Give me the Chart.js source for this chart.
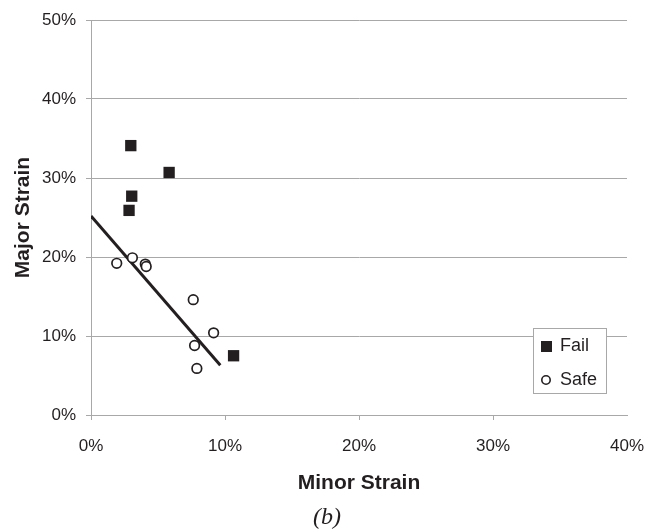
<!DOCTYPE html>
<html>
<head>
<meta charset="utf-8">
<script src="https://cdn.jsdelivr.net/npm/chart.js@4/dist/chart.umd.min.js"></script>
<style>
  html, body { margin: 0; padding: 0; background: #fff; }
  #box { width: 648px; height: 531px; }
</style>
</head>
<body>
<div id="box"><canvas id="strainChart" width="648" height="531"></canvas></div>
<script>
//______________________________________________________
// values, in percent
var FailMinor = [2.97, 5.83, 3.04, 2.84, 10.64];
var FailMajor = [34.1, 30.7, 27.7, 25.9, 7.5];
var SafeMinor = [1.92, 3.09, 4.05, 4.12, 7.63, 9.15, 7.73, 7.90];
var SafeMajor = [19.2, 19.9, 19.1, 18.8, 14.6, 10.4, 8.8, 5.9];
var TrendMinor = [0, 9.65];
var TrendMajor = [25.2, 6.3];
var XTicks = [0, 10, 20, 30, 40];
var YTicks = [0, 10, 20, 30, 40, 50];

const Ink = '#231f20';
const GridGrey = '#a8a8a8';
const FontName = '"Liberation Sans", Arial, sans-serif';

//______________________________________________________
function toPoints (xs, ys) {
    var pts = [];
    for (var i = 0; i < xs.length; i++) {
        pts.push({x: xs[i], y: ys[i]});
    }
    return pts;
}
//______________________________________________________
var insideLegend = { // boxed legend in the plot area + the (b) caption
    id: 'insideLegend',
    afterDraw: function (chart) {
        var ctx = chart.ctx;
        var left = 533, top = 328, w = 73, h = 65;
        ctx.save();
        ctx.fillStyle = '#fff';
        ctx.fillRect(left, top, w, h);
        ctx.strokeStyle = GridGrey;
        ctx.lineWidth = 1;
        ctx.strokeRect(left + 0.5, top + 0.5, w, h);
        ctx.font = '18px ' + FontName;
        ctx.textBaseline = 'middle';
        ctx.fillStyle = Ink;
        // Fail
        ctx.fillRect(541, 341, 11, 11);
        ctx.fillText(chart.data.datasets[0].label, 560, 346);
        // Safe
        ctx.beginPath();
        ctx.arc(546, 380, 4.2, 0, 2 * Math.PI);
        ctx.lineWidth = 1.6;
        ctx.strokeStyle = Ink;
        ctx.stroke();
        ctx.fillText(chart.data.datasets[1].label, 560, 380);
        // caption
        ctx.font = 'italic 24px "Liberation Serif", "Times New Roman", serif';
        ctx.textAlign = 'center';
        ctx.fillText('(b)', 327, 518);
        ctx.restore();
    }
};
//______________________________________________________
function initChart () {
    new Chart('strainChart', {
        type: 'scatter',
        data: {
            datasets: [{
                label: 'Fail',
                data: toPoints(FailMinor, FailMajor),
                pointStyle: 'rect',
                pointRadius: 8,
                pointBackgroundColor: Ink,
                pointBorderColor: Ink,
                pointBorderWidth: 0
            }, {
                label: 'Safe',
                data: toPoints(SafeMinor, SafeMajor),
                pointStyle: 'circle',
                pointRadius: 4.8,
                pointBackgroundColor: '#fff',
                pointBorderColor: Ink,
                pointBorderWidth: 1.7
            }, {
                label: 'trend',
                type: 'line',
                data: toPoints(TrendMinor, TrendMajor),
                borderColor: Ink,
                borderWidth: 3,
                pointRadius: 0,
                fill: false
            }]
        },
        options: {
            responsive: false,
            animation: false,
            layout: { padding: { left: 0, right: 21, top: 20, bottom: 0 } },
            plugins: {
                legend: { display: false },
                tooltip: { enabled: false }
            },
            scales: {
                x: {
                    type: 'linear',
                    min: 0, max: 40,
                    afterBuildTicks: function (s) { s.ticks = XTicks.map(function (v) { return {value: v}; }); },
                    afterFit: function (s) { s.height = 116; s.paddingLeft = 0; s.paddingRight = 0; },
                    grid: {
                        drawOnChartArea: false,
                        tickLength: 5,
                        tickColor: function (c) { return c.index === 4 ? 'rgba(0,0,0,0)' : GridGrey; }
                    },
                    border: { color: GridGrey, width: 1 },
                    ticks: {
                        color: Ink,
                        padding: 16,
                        font: { family: FontName, size: 17 },
                        callback: function (v) { return v + '%'; }
                    },
                    title: {
                        display: true,
                        text: 'Minor Strain',
                        color: Ink,
                        font: { family: FontName, size: 21, weight: 'bold' },
                        padding: { top: 0, bottom: 35 }
                    }
                },
                y: {
                    type: 'linear',
                    min: 0, max: 50,
                    afterBuildTicks: function (s) { s.ticks = YTicks.map(function (v) { return {value: v}; }); },
                    afterFit: function (s) { s.width = 91; s.paddingTop = 0; s.paddingBottom = 0; },
                    grid: { color: GridGrey, lineWidth: 1, tickLength: 5, tickColor: GridGrey },
                    border: { color: GridGrey, width: 1 },
                    ticks: {
                        color: Ink,
                        padding: 10,
                        font: { family: FontName, size: 17 },
                        callback: function (v) { return v + '%'; }
                    },
                    title: {
                        display: true,
                        text: 'Major Strain',
                        color: Ink,
                        font: { family: FontName, size: 21, weight: 'bold' },
                        padding: { top: 11, bottom: 4 }
                    }
                }
            }
        },
        plugins: [insideLegend]
    });
}
//______________________________________________________
initChart();
</script>
</body>
</html>
